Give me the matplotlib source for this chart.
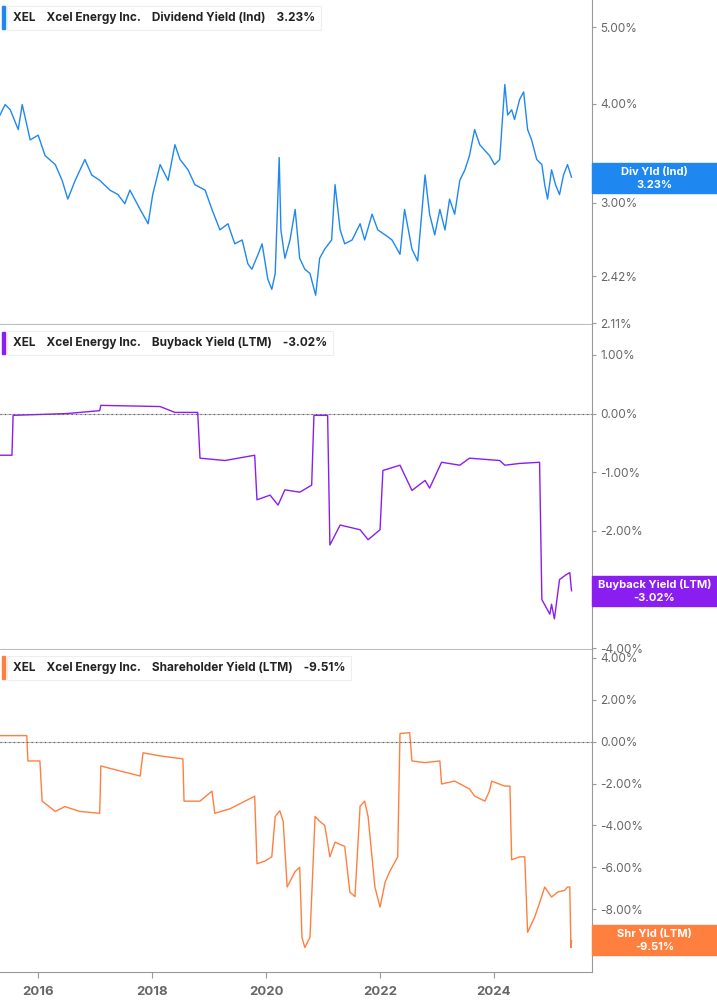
import matplotlib
matplotlib.use("Agg")
import matplotlib.pyplot as plt
from matplotlib.ticker import FixedLocator, NullLocator, NullFormatter

# ---------------- data ----------------
div_t = [2015.33,2015.42,2015.51,2015.65,2015.72,2015.86,2016.00,2016.12,2016.30,2016.42,2016.52,2016.65,2016.82,2016.94,
         2017.08,2017.26,2017.40,2017.52,2017.61,2017.79,2017.93,2018.01,2018.14,2018.28,2018.40,2018.49,2018.63,2018.75,
         2018.93,2019.05,2019.19,2019.33,2019.45,2019.58,2019.68,2019.75,2019.86,2019.93,2020.03,2020.10,2020.16,2020.23,
         2020.26,2020.33,2020.42,2020.51,2020.59,2020.68,2020.77,2020.87,2020.94,2021.03,2021.15,2021.21,2021.30,2021.38,
         2021.51,2021.65,2021.73,2021.86,2021.96,2022.09,2022.21,2022.35,2022.43,2022.56,2022.66,2022.79,2022.87,2022.96,
         2023.05,2023.14,2023.22,2023.31,2023.40,2023.49,2023.57,2023.66,2023.75,2023.84,2023.92,2024.01,2024.10,2024.19,
         2024.24,2024.31,2024.36,2024.45,2024.52,2024.59,2024.66,2024.75,2024.84,2024.89,2024.94,2025.01,2025.08,2025.15,
         2025.22,2025.29,2025.36]
div_v = [3.87,3.99,3.93,3.71,3.99,3.60,3.65,3.44,3.35,3.20,3.03,3.20,3.40,3.25,
         3.20,3.11,3.07,2.99,3.11,2.94,2.82,3.07,3.35,3.20,3.55,3.40,3.30,3.16,
         3.11,2.94,2.77,2.82,2.66,2.69,2.51,2.47,2.58,2.66,2.40,2.33,2.44,3.42,
         2.77,2.55,2.69,2.94,2.55,2.47,2.44,2.29,2.55,2.62,2.69,3.16,2.77,2.66,
         2.69,2.82,2.69,2.90,2.77,2.73,2.69,2.58,2.94,2.62,2.53,3.25,2.90,2.73,
         2.94,2.77,3.03,2.90,3.20,3.30,3.44,3.71,3.55,3.49,3.44,3.35,3.40,4.23,
         3.87,3.93,3.82,4.05,4.14,3.71,3.60,3.40,3.35,3.16,3.03,3.30,3.16,3.07,
         3.25,3.35,3.23]

bb_t = [2015.33,2015.54,2015.56,2016.5,2017.08,2017.10,2018.14,2018.40,2018.80,2018.84,2019.28,2019.80,2019.84,2020.07,
        2020.21,2020.33,2020.59,2020.80,2020.84,2021.08,2021.12,2021.30,2021.65,2021.79,2022.00,2022.05,2022.35,2022.56,
        2022.79,2022.87,2023.08,2023.40,2023.57,2024.10,2024.19,2024.45,2024.80,2024.84,2024.98,2025.01,2025.06,2025.15,
        2025.26,2025.33,2025.36]
bb_v = [-0.71,-0.71,-0.03,0.0,0.05,0.14,0.12,0.02,0.02,-0.76,-0.80,-0.71,-1.47,-1.39,
        -1.56,-1.30,-1.34,-1.22,-0.03,-0.03,-2.24,-1.90,-1.98,-2.15,-1.98,-0.97,-0.88,-1.31,
        -1.14,-1.27,-0.83,-0.88,-0.76,-0.80,-0.88,-0.85,-0.83,-3.17,-3.42,-3.25,-3.50,-2.83,
        -2.75,-2.71,-3.02]

sh_t = [2015.33,2015.51,2015.80,2015.82,2016.03,2016.07,2016.30,2016.47,2016.73,2017.08,2017.10,2017.44,2017.79,2017.84,
        2018.14,2018.54,2018.56,2018.84,2019.05,2019.10,2019.37,2019.63,2019.80,2019.84,2019.98,2020.10,2020.16,2020.24,
        2020.30,2020.37,2020.51,2020.59,2020.63,2020.68,2020.77,2020.86,2020.94,2021.03,2021.12,2021.21,2021.38,2021.47,
        2021.56,2021.65,2021.73,2021.79,2021.91,2022.00,2022.09,2022.17,2022.31,2022.35,2022.52,2022.56,2022.79,2023.05,
        2023.08,2023.31,2023.57,2023.66,2023.84,2023.92,2023.96,2024.05,2024.19,2024.28,2024.31,2024.45,2024.54,2024.59,
        2024.71,2024.80,2024.89,2025.01,2025.12,2025.24,2025.29,2025.33,2025.35,2025.36]
sh_v = [0.29,0.29,0.29,-0.92,-0.92,-2.84,-3.33,-3.10,-3.33,-3.42,-1.16,-1.40,-1.64,-0.53,
        -0.68,-0.82,-2.84,-2.84,-2.36,-3.42,-3.20,-2.84,-2.60,-5.83,-5.70,-5.50,-3.57,-3.30,
        -3.80,-6.94,-6.20,-6.00,-9.35,-9.83,-9.35,-3.57,-3.80,-4.00,-5.50,-4.80,-5.00,-7.18,
        -7.40,-3.08,-2.84,-3.57,-6.94,-7.90,-6.70,-6.20,-5.50,0.39,0.43,-0.92,-1.00,-0.92,
        -2.02,-1.88,-2.26,-2.60,-2.84,-2.36,-1.88,-1.98,-2.12,-2.12,-5.64,-5.50,-5.50,-9.10,
        -8.40,-7.70,-6.94,-7.42,-7.18,-7.10,-6.94,-6.94,-9.83,-9.51]

div_ticks = [5.00, 4.00, 3.00, 2.42, 2.11]
bb_ticks = [1.0, 0.0, -1.0, -2.0, -4.0]
sh_ticks = [4, 2, 0, -2, -4, -6, -8, -10]
year_ticks = [2016, 2018, 2020, 2022, 2024]

BLUE = "#1E88F0"
PURPLE = "#8A1EF0"
ORANGE = "#FF7F3F"
GRAY = "#666666"

W, H = 717, 1005
fig = plt.figure(figsize=(W/100, H/100), dpi=100)
fig.patch.set_facecolor("white")
plt.rcParams["font.family"] = "Inter"

xl = (2015.33, 2025.72)
AXW = 592

def make_ax(top, bot):
    ax = fig.add_axes([0, 1-bot/H, AXW/W, (bot-top)/H])
    for s in ["left", "top", "bottom"]:
        ax.spines[s].set_visible(False)
    ax.spines["right"].set_color("#999999")
    ax.yaxis.tick_right()
    ax.tick_params(axis="y", length=3, color="#999999", labelsize=8.5, labelcolor=GRAY, pad=3)
    ax.set_xlim(*xl)
    ax.xaxis.set_major_locator(FixedLocator(year_ticks))
    ax.tick_params(axis="x", length=0, labelbottom=False)
    ax.axhline(ax.get_ylim()[0], color="#bbbbbb", lw=0.8)
    return ax

def legend(ax, y, color, text):
    ax.text(0.022, y, text, transform=ax.transAxes, fontsize=8.5, fontweight="bold",
            color="#222222", va="center", ha="left",
            bbox=dict(boxstyle="square,pad=0.5", fc="white", ec="#eeeeee", lw=0.8))
    ax.add_patch(plt.Rectangle((0.004, y-0.035), 0.005, 0.07, transform=ax.transAxes,
                               color=color, clip_on=False, zorder=5))

def tag(ycen_px, color, l1, l2):
    fig.patches.append(plt.Rectangle((AXW/W, 1-(ycen_px+15)/H), (W-AXW)/W, 30/H,
                                     transform=fig.transFigure, color=color, zorder=10))
    fig.text((AXW+W)/2/W, 1-(ycen_px-6)/H, l1, color="white", fontsize=8, fontweight="bold",
             ha="center", va="center", zorder=11)
    fig.text((AXW+W)/2/W, 1-(ycen_px+7)/H, l2, color="white", fontsize=8, fontweight="bold",
             ha="center", va="center", zorder=11)

# panel 1
ax1 = make_ax(0, 325)
ax1.set_yscale("log")
ax1.set_ylim(2.10, 5.41)
ax1.plot(div_t, div_v, color=BLUE, lw=1.0)
ax1.yaxis.set_major_locator(FixedLocator(div_ticks))
ax1.yaxis.set_minor_locator(NullLocator())
ax1.yaxis.set_minor_formatter(NullFormatter())
ax1.set_yticklabels([f"{v:.2f}%" for v in div_ticks])
ax1.axhline(2.10, color="#bbbbbb", lw=1.5)
legend(ax1, 0.945, BLUE, "XEL    Xcel Energy Inc.    Dividend Yield (Ind)    3.23%")
tag(178, BLUE, "Div Yld (Ind)", "3.23%")

# panel 2
ax2 = make_ax(325, 650)
ax2.set_ylim(-4.03, 1.51)
ax2.plot(bb_t, bb_v, color=PURPLE, lw=1.0)
ax2.axhline(0, color="#555555", lw=0.8, ls=(0, (1, 3)))
ax2.yaxis.set_major_locator(FixedLocator(bb_ticks))
ax2.set_yticklabels([f"{v:.2f}%" for v in bb_ticks])
ax2.axhline(-4.03, color="#bbbbbb", lw=1.5)
legend(ax2, 0.945, PURPLE, "XEL    Xcel Energy Inc.    Buyback Yield (LTM)    -3.02%")
tag(591, PURPLE, "Buyback Yield (LTM)", "-3.02%")

# panel 3
ax3 = make_ax(650, 972)
ax3.set_ylim(-11.0, 4.38)
ax3.plot(sh_t, sh_v, color=ORANGE, lw=1.0)
ax3.axhline(0, color="#555555", lw=0.8, ls=(0, (1, 3)))
ax3.yaxis.set_major_locator(FixedLocator(sh_ticks))
ax3.set_yticklabels([f"{v:.2f}%" for v in sh_ticks])
ax3.spines["bottom"].set_visible(True)
ax3.spines["bottom"].set_color("#999999")
ax3.tick_params(axis="x", length=4, color="#999999", labelbottom=True, labelsize=9.5,
                labelcolor=GRAY, pad=6)
for lb in ax3.get_xticklabels():
    lb.set_fontweight("bold")
legend(ax3, 0.945, ORANGE, "XEL    Xcel Energy Inc.    Shareholder Yield (LTM)    -9.51%")
tag(940, ORANGE, "Shr Yld (LTM)", "-9.51%")

fig.savefig("out.png", dpi=100, facecolor="white")
